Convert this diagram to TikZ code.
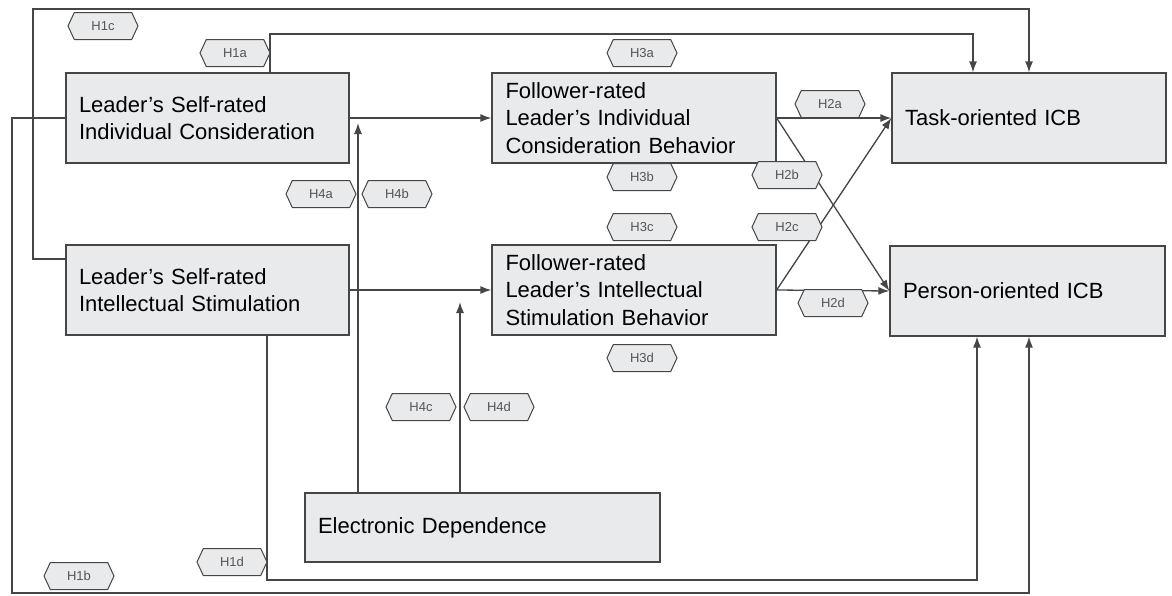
\documentclass[tikz,border=0pt]{standalone}
\usepackage{fontspec}
\setmainfont{Liberation Sans}
\usetikzlibrary{arrows.meta}
\usetikzlibrary{shapes.symbols}
\definecolor{boxgray}{RGB}{232,234,235}
\definecolor{linegray}{RGB}{70,70,70}
\definecolor{taggray}{RGB}{85,85,85}
\newcommand{\BOXFONT}{\fontsize{22}{27.5}\selectfont}
\newcommand{\TAGFONT}{\fontsize{13}{14}\selectfont}

\begin{document}
\begin{tikzpicture}[x=1pt,y=-1pt,
    var/.style={rectangle,draw=linegray,line width=1.3pt,fill=boxgray,
        inner xsep=13pt,inner ysep=0pt,align=left,font=\BOXFONT,
        text width=257pt,minimum height=90pt},
    tag/.style={signal,signal to=east and west,signal pointer angle=130,
        draw=linegray,line width=1pt,fill=boxgray,text=taggray,font=\TAGFONT,
        minimum width=70pt,minimum height=27pt,inner sep=1pt},
    conn/.style={draw=linegray,line width=1.3pt,-{Latex[length=11pt,width=8pt]}}]
    \useasboundingbox (0,0) rectangle (1172,595);

    \node[var] (lsic) at (207.5,118) {Leader’s Self-rated\\Individual Consideration};
    \node[var] (lsis) at (207.5,290) {Leader’s Self-rated\\Intellectual Stimulation};
    \node[var,minimum width=284pt] (fic) at (634,118) {Follower-rated\\Leader’s Individual\\Consideration Behavior};
    \node[var,minimum width=284pt] (fis) at (634,290) {Follower-rated\\Leader’s Intellectual\\Stimulation Behavior};
    \node[var,text width=248pt] (task) at (1029,118) {Task-oriented ICB};
    \node[var,text width=249pt] (person) at (1027.5,291) {Person-oriented ICB};
    \node[var,text width=329pt,minimum height=69pt] (edep) at (482.5,527.5) {Electronic Dependence};

    % mediators
    \draw[conn] (lsic.east) -- (fic.west);
    \draw[conn] (lsis.east) -- (fis.west);
    \foreach \s in {fic,fis} {
        \foreach \t in {task,person} {
            \draw[conn] (\s.east) -- (\t.west);
        }
    }

    % moderator
    \coordinate (m1) at (358,123);
    \coordinate (m2) at (460,302);
    \draw[conn] (edep.north -| m1) -- (m1);
    \draw[conn] (edep.north -| m2) -- (m2);

    % direct paths
    \coordinate (a1) at (270,34);
    \coordinate (a2) at (973,34);
    \draw[conn] (lsic.north -| a1) -- (a1) -- (a2) -- (task.north -| a2);

    \coordinate (c1) at (33,9);
    \coordinate (c2) at (1029,9);
    \draw[conn] (lsis.west |- 0,259) -| (c1) -- (c2) -- (task.north -| c2);

    \coordinate (b1) at (12,593);
    \coordinate (b2) at (1029,593);
    \draw[conn] (lsic.west) -| (b1) -- (b2) -- (person.south -| b2);

    \coordinate (d1) at (267,580);
    \coordinate (d2) at (977,580);
    \draw[conn] (lsis.south -| d1) -- (d1) -- (d2) -- (person.south -| d2);

    \foreach \n/\x/\y in {H1c/103/26, H1a/235/53, H4a/321/194, H4b/397/194,
        H3a/642/53, H3b/642/177, H3c/642/227, H3d/642/358,
        H2a/830/104, H2b/787/175, H2c/787/227, H2d/833/303,
        H4c/421/407, H4d/499/407, H1d/232/562, H1b/79/576} {
        \node[tag] (\n) at (\x,\y) {\n};
    }
\end{tikzpicture}
\end{document}
